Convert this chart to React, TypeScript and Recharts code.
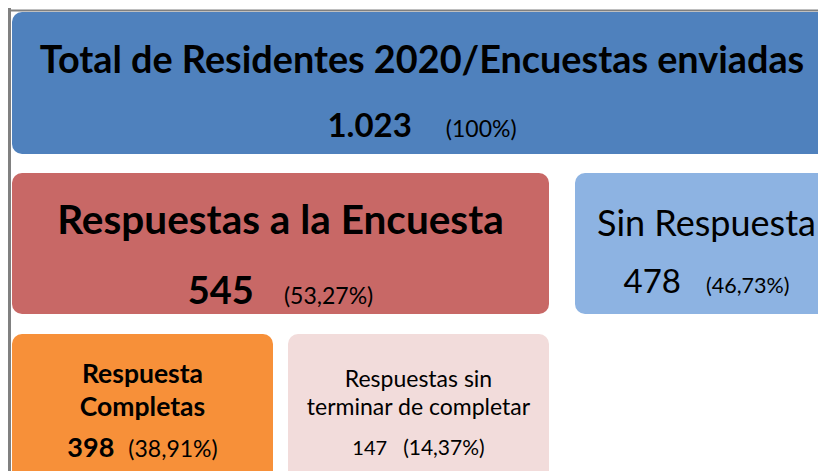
import { ComposedChart, XAxis, YAxis, ReferenceArea, ReferenceLine, Rectangle } from "recharts";

// datos
const categorias = [
  ["Total de Residentes 2020/Encuestas enviadas"],
  ["Respuestas a la Encuesta"],
  ["Sin Respuesta"],
  ["Respuesta", "Completas"],
  ["Respuestas sin", "terminar de completar"],
];
const cantidades = ["1.023", "545", "478", "398", "147"];
const porcentajes = ["(100%)", "(53,27%)", "(46,73%)", "(38,91%)", "(14,37%)"];

// disposición de cada caja (unidades del eje = px de página)
const cajas = [
  { x1: 12, x2: 832, y1: 12, y2: 154, fill: "#4F81BD", tit: 37.8, titW: 700, lineas: [65], num: 33, numW: 700, pct: 23, gap: 34, numY: 129 },
  { x1: 12, x2: 549, y1: 173, y2: 314, fill: "#C86866", tit: 40.5, titW: 700, lineas: [226], num: 38, numW: 700, pct: 23, gap: 30, numY: 296 },
  { x1: 575, x2: 838, y1: 173, y2: 314, fill: "#8DB3E2", tit: 36, titW: 400, lineas: [228], num: 33, numW: 400, pct: 21.5, gap: 25, numY: 285 },
  { x1: 12, x2: 273, y1: 334, y2: 490, fill: "#F79039", tit: 26.5, titW: 700, lineas: [375, 408], num: 27, numW: 700, pct: 23, gap: 14, numY: 449 },
  { x1: 288, x2: 549, y1: 334, y2: 490, fill: "#F2DCDB", tit: 23, titW: 400, lineas: [379, 407], num: 20, numW: 400, pct: 21, gap: 16, numY: 447 },
];

const FUENTE = "Lato, 'Open Sans', sans-serif";

function Etiqueta({ viewBox, i }: { viewBox?: any; i: number }) {
  if (!viewBox) return null;
  const c = cajas[i];
  const cx = viewBox.x + viewBox.width / 2;
  return (
    <g fill="#000" fontFamily={FUENTE}>
      {categorias[i].map((t, k) => (
        <text key={k} x={cx} y={c.lineas[k]} textAnchor="middle" fontSize={c.tit} fontWeight={c.titW}>
          {t}
        </text>
      ))}
      <text x={cx} y={c.numY} textAnchor="middle">
        <tspan fontSize={c.num} fontWeight={c.numW}>{cantidades[i]}</tspan>
        <tspan dx={c.gap} fontSize={c.pct} fontWeight={400}>{porcentajes[i]}</tspan>
      </text>
    </g>
  );
}

export default function App() {
  return (
    <div style={{ width: 818, height: 463 }}>
      <ComposedChart width={818} height={463} data={[{ x: 8 }, { x: 826 }]} margin={{ top: 0, right: 0, bottom: 0, left: 0 }}>
        <XAxis type="number" dataKey="x" domain={[8, 826]} hide allowDataOverflow />
        <YAxis type="number" domain={[8, 471]} reversed hide allowDataOverflow />
        <ReferenceLine y={10.5} stroke="#808080" strokeWidth={2} ifOverflow="visible" />
        <ReferenceLine x={9.5} stroke="#808080" strokeWidth={3} ifOverflow="visible" />
        {cajas.map((c, i) => (
          <ReferenceArea
            key={i}
            x1={c.x1}
            x2={c.x2}
            y1={c.y1}
            y2={c.y2}
            ifOverflow="visible"
            fill={c.fill}
            fillOpacity={1}
            stroke="none"
            shape={(p: any) => <Rectangle {...p} radius={10} />}
            label={(p: any) => <Etiqueta viewBox={p.viewBox} i={i} />}
          />
        ))}
      </ComposedChart>
    </div>
  );
}
